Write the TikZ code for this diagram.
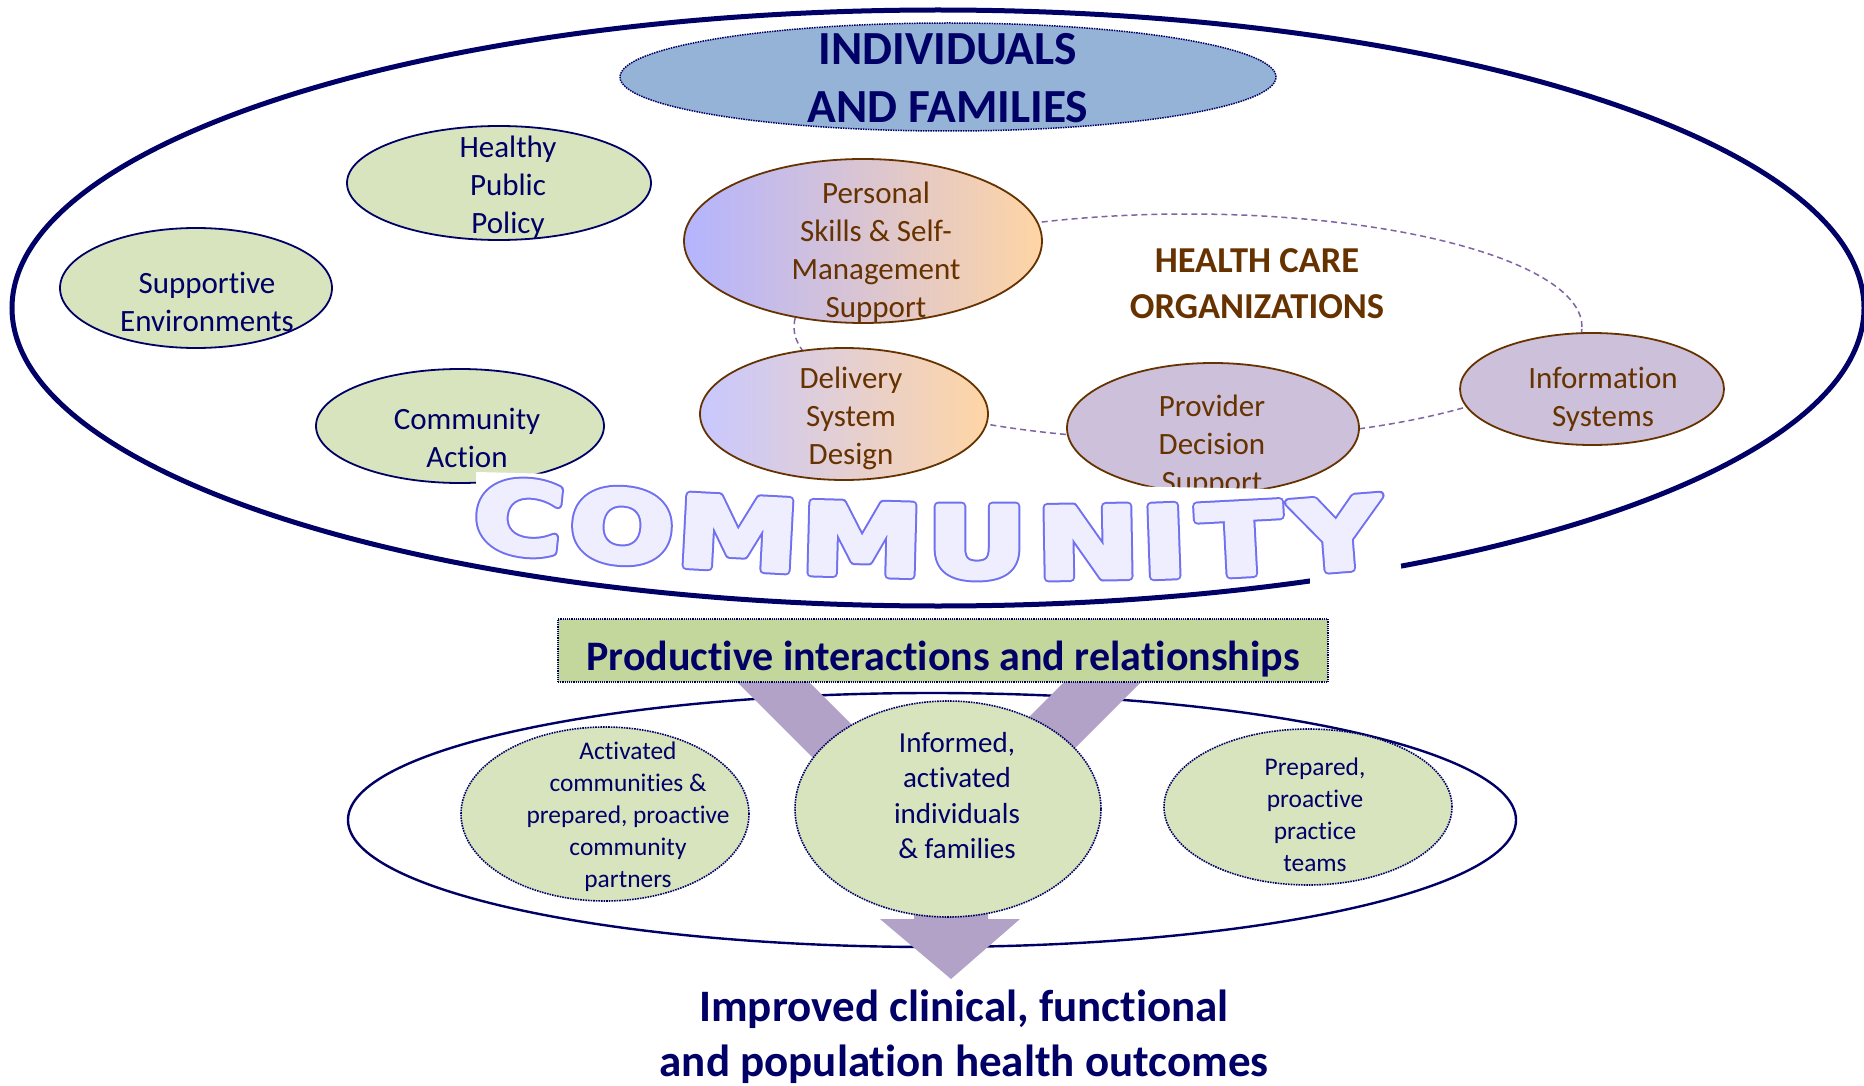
\documentclass[tikz,border=0pt]{standalone}
\usepackage{fontspec}
\setmainfont{Carlito}[Ligatures=NoCommon]
\newfontfamily\commfont[FakeStretch=1.28]{DejaVu Sans}
\usetikzlibrary{shapes.geometric}
\definecolor{navy}{HTML}{000066}
\definecolor{brn}{HTML}{663300}
\definecolor{lgreen}{HTML}{D7E4BD}
\definecolor{ifblue}{HTML}{95B3D7}
\definecolor{lpurp}{HTML}{CCC0DA}
\definecolor{arrowc}{HTML}{B2A2C7}
\definecolor{prodg}{HTML}{C3D69B}
\definecolor{dashc}{HTML}{8064A2}
\definecolor{gradL}{HTML}{B4B4FF}
\definecolor{gradLL}{HTML}{C8C8FF}
\definecolor{gradR}{HTML}{FFD5A5}
\definecolor{commfill}{HTML}{EEEEFF}
\newcommand\commglyph[1]{\rlap{\special{pdf:literal direct 2 Tr 1 j 9.5 w 0.44 0.44 0.94 RG 0.44 0.44 0.94 rg}#1}\special{pdf:literal direct 2 Tr 1 j 5.5 w 0.933 0.933 1 RG 0.933 0.933 1 rg}#1\special{pdf:literal direct 0 Tr}}
\tikzset{
  greenell/.style={ellipse, draw=navy, line width=1.8pt, fill=lgreen, inner sep=0},
  hcell/.style={ellipse, draw=brn, line width=1.8pt, inner sep=0},
  dotell/.style={ellipse, draw=navy, densely dotted, line width=1.6pt, fill=lgreen, inner sep=0},
  txt/.style={anchor=base, align=center, inner sep=0, text=navy, font=\fontsize{31}{38}\selectfont},
  smalltxt/.style={txt, font=\fontsize{25.4}{32}\selectfont},
  commletter/.style={inner sep=0, text=commfill, font=\commfont\bfseries\fontsize{96}{96}\selectfont}
}
\begin{document}
\begin{tikzpicture}[x=1pt,y=-1pt]
\useasboundingbox (0,0) rectangle (1864,1086);
\fill[white] (0,0) rectangle (1864,1086);

% outer community ellipse
\node[ellipse, draw=navy, line width=5pt, inner sep=0, minimum width=1852pt, minimum height=596pt] (commell) at (938,308) {};

% dashed health care ring
\node[ellipse, draw=dashc, dash pattern=on 6pt off 4pt, line width=1.5pt, inner sep=0, minimum width=788pt, minimum height=226pt] (hcring) at (1188,327) {};

% individuals and families (anchor = baseline of last line)
\node[ellipse, fill=ifblue, draw=navy, densely dotted, line width=1.5pt, inner sep=0, minimum width=656pt, minimum height=108pt] (iaf) at (948,77) {};
\node[txt, font=\bfseries\fontsize{47.5}{58}\selectfont] (iaft) at (948,123) {INDIVIDUALS\\AND FAMILIES};

% community nodes
\node[greenell, minimum width=304pt, minimum height=114pt] (hpp) at (499,183) {};
\node[txt] (hppt) at (508,234) {Healthy\\Public\\Policy};
\node[greenell, minimum width=272pt, minimum height=120pt] (se) at (196,288) {};
\node[txt] (set) at (207,331) {Supportive\\Environments};
\node[greenell, minimum width=288pt, minimum height=114pt] (ca) at (460,426) {};
\node[txt] (cat) at (467,467) {Community\\Action};

% health care nodes
\node[hcell, left color=gradL, right color=gradR, draw=brn, minimum width=358pt, minimum height=164pt] (pss) at (863,241) {};
\node[txt, text=brn] (psst) at (876,317) {Personal\\Skills \& Self-\\Management\\Support};
\node[hcell, fill=lpurp, minimum width=292pt, minimum height=130pt] (pds) at (1213,428) {};
\node[txt, text=brn] (pdst) at (1212,492) {Provider\\Decision\\Support};
\node[hcell, fill=lpurp, minimum width=264pt, minimum height=112pt] (is) at (1592,389) {};
\node[txt, text=brn] (ist) at (1603,426) {Information\\Systems};
\node[txt, text=brn, font=\bfseries\fontsize{36.5}{46}\selectfont] (hco) at (1257,318) {HEALTH CARE\\ORGANIZATIONS};

% white patch behind COMMUNITY
\fill[white] (476,472) -- (880,482) -- (1392,491) -- (1404,592) -- (1310,592) -- (1310,570) -- (476,552) -- cycle;

\node[hcell, left color=gradLL, right color=gradR, draw=brn, minimum width=288pt, minimum height=132pt] (dsd) at (844,414) {};
\node[txt, text=brn] (dsdt) at (851,464) {Delivery\\System\\Design};

% COMMUNITY word art
\foreach \ch/\cx/\cy/\rot [count=\i] in {C/519/517/-6, O/622/526/-4.5, M/738/533/-3, M/862/539/-1.5, U/977/542/0, N/1088/542/1, I/1164/541/2, T/1240/539/3, Y/1337/534/4.5}
  \node[commletter, rotate=\rot] (cl\i) at (\cx,\cy) {\commglyph{\ch}};

% lower part
\node[ellipse, draw=navy, line width=2.4pt, inner sep=0, minimum width=1168pt, minimum height=254pt] (outc) at (932,820) {};
\fill[arrowc] (737,682) -- (809,682) -- (936.5,809.5) -- (1064,682) -- (1141,682) -- (988,835) -- (988,919) -- (1020,919) -- (951,979) -- (880,919) -- (914,919) -- (914,859) -- cycle;
\node[draw=navy, densely dotted, line width=1.2pt, fill=prodg, minimum width=770pt, minimum height=63pt, inner sep=0] (prod) at (943,650.5) {};
\node[txt, font=\bfseries\fontsize{42}{50}\selectfont] (prodt) at (943,670) {Productive interactions and relationships};

\node[dotell, minimum width=288pt, minimum height=174pt] (acp) at (605,814) {};
\node[smalltxt] (acpt) at (628,887) {Activated\\communities \&\\prepared, proactive\\community\\partners};
\node[dotell, minimum width=306pt, minimum height=216pt] (inf) at (948,809) {};
\node[txt, font=\fontsize{29}{35.5}\selectfont] (inft) at (957,858.5) {Informed,\\activated\\individuals\\\& families};
\node[dotell, minimum width=288pt, minimum height=156pt] (ppt) at (1308,807) {};
\node[smalltxt] (pptt) at (1315,871) {Prepared,\\proactive\\practice\\teams};

\node[txt, font=\bfseries\fontsize{45}{55}\selectfont] (outcome) at (964,1076) {Improved clinical, functional\\and population health outcomes};
\end{tikzpicture}
\end{document}
